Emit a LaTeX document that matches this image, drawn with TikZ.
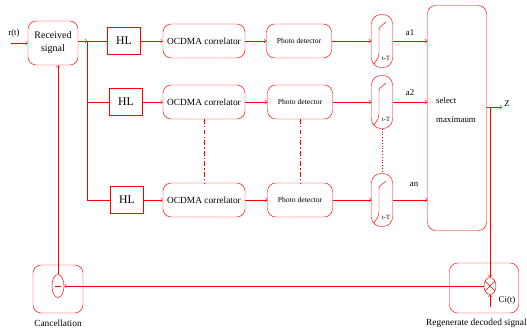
\documentclass[tikz,border=0pt]{standalone}
\usepackage{fontspec}
\setmainfont{Liberation Serif}
\usetikzlibrary{shapes.geometric}
\tikzset{
  block/.style={draw=red, rounded corners=7pt, align=center, inner sep=1pt},
  hlbox/.style={draw=red, minimum width=0.99cm, minimum height=0.81cm, inner sep=0pt, font=\fontsize{10}{11}\selectfont},
  corbox/.style={block, minimum width=2.46cm, minimum height=1.02cm, font=\fontsize{8}{9}\selectfont},
  pdbox/.style={block, minimum width=1.95cm, minimum height=1.02cm, font=\fontsize{6.5}{7}\selectfont},
  intbox/.style={draw=red, rounded corners=8pt, minimum width=0.63cm, minimum height=1.59cm, inner sep=0pt},
  sig/.style={red, ->},
  lbl/.style={font=\fontsize{7.5}{8}\selectfont, inner sep=0pt},
}
\begin{document}
\begin{tikzpicture}[x=0.03cm, y=-0.03cm]
	\useasboundingbox (0,0) rectangle (527,336);
	% Main blocks
	\node[block, minimum width=1.5cm, minimum height=1.32cm, font=\fontsize{8.5}{11}\selectfont] (rec) at (53,43) {Received\\signal};
	\node[hlbox] (hl1) at (124,41) {HL};
	\node[hlbox] (hl2) at (126,102) {HL};
	\node[hlbox] (hl3) at (127,200) {HL};
	\node[corbox] (cor1) at (204,41) {OCDMA correlator};
	\node[corbox] (cor2) at (204,102) {OCDMA correlator};
	\node[corbox] (cor3) at (204,200) {OCDMA correlator};
	\node[pdbox] (pd1) at (299,41) {Photo detector};
	\node[pdbox] (pd2) at (300,102) {Photo detector};
	\node[pdbox] (pd3) at (300,200) {Photo detector};
	\node[intbox] (int1) at (382,41) {};
	\node[intbox] (int2) at (382,102) {};
	\node[intbox] (int3) at (382,200) {};
	\node[block, minimum width=1.77cm, minimum height=6.75cm] (selmax) at (457,118) {};
	\node[block, minimum width=2.07cm, minimum height=1.5cm] (regen) at (484,288) {};
	\node[block, minimum width=1.5cm, minimum height=1.44cm] (canc) at (58,289) {};
	\node[draw=red, ellipse, minimum width=0.36cm, minimum height=0.51cm, inner sep=0pt] (mult) at (490,286) {};
	\node[draw=red, ellipse, minimum width=0.36cm, minimum height=0.69cm, inner sep=0pt] (sub) at (58,286) {};
	% Integrator curves
	\foreach \y in {41,102,200}{
		\begin{scope}[shift={(382,\y)}]
			\draw[red] (-8,23) -- (-4,17) .. controls (-3,15) .. (-3,12) -- (-3,-10) .. controls (-3,-13) .. (-1,-15) -- (4,-19);
			\node[font=\fontsize{5.5}{6}\selectfont, inner sep=0pt] at (4,17) {t-T};
		\end{scope}
	}
	% Multiplier and subtractor marks
	\draw[red] (mult.45) -- (mult.225) (mult.135) -- (mult.315);
	\draw[red] ([xshift=-0.1cm]sub.center) -- ([xshift=0.1cm]sub.center);
	% Points
	\coordinate (rin) at (11,43);
	\coordinate (split1) at (87,41);
	\coordinate (split2) at (87,102);
	\coordinate (split3) at (87,200);
	\coordinate (zs) at (490,107);
	\coordinate (zend) at (502,107);
	\coordinate (ciin) at (490,307);
	% Connections
	\draw[sig] (rin) -- (rec.west);
	\draw[sig] (rec.east |- split1) -- (split1);
	\draw[red] (split1) -- (split3);
	\foreach \i in {1,2,3}{
		\draw[red] (split\i) -- (hl\i.west |- split\i);
		\draw[sig] (hl\i.east |- split\i) -- (cor\i.west |- split\i);
		\draw[sig] (cor\i.east |- split\i) -- (pd\i.west |- split\i);
		\draw[sig] (pd\i.east |- split\i) -- (int\i.west |- split\i);
		\draw[sig] (int\i.east |- split\i) -- (selmax.west |- split\i);
	}
	\draw[sig] (selmax.east |- zs) -- (zend);
	\draw[sig] (zs) -- (mult.north);
	\draw[sig] (ciin) -- (mult.south);
	\draw[sig] (mult.west) -- (sub.east);
	\draw[sig] (sub.north) -- (sub.north |- rec.south);
	% Dashed links
	\draw[red, dash pattern=on 4pt off 2pt on 1pt off 2pt] (cor2.south) -- (cor3.north);
	\draw[red, dash pattern=on 4pt off 2pt on 1pt off 2pt] (pd2.south) -- (pd3.north);
	\draw[red, dotted] (int2.south) -- (int3.north);
	% Labels
	\node[lbl] (rlbl) at (14,33) {r(t)};
	\node[lbl] (a1) at (410,33) {a1};
	\node[lbl] (a2) at (410,93) {a2};
	\node[lbl] (an) at (414,184) {an};
	\node[lbl, anchor=west] (sel) at (436,100) {select};
	\node[lbl, anchor=west] (maxi) at (436,120) {maximaum};
	\node[lbl] (zlbl) at (507,104) {Z};
	\node[lbl] (cilbl) at (507,300) {Ci(t)};
	\node[lbl, font=\fontsize{8}{9}\selectfont] (canclbl) at (58,323) {Cancellation};
	\node[lbl, font=\fontsize{8}{9}\selectfont, anchor=west] (regenlbl) at (426,323) {Regenerate decoded signal};
\end{tikzpicture}
\end{document}
